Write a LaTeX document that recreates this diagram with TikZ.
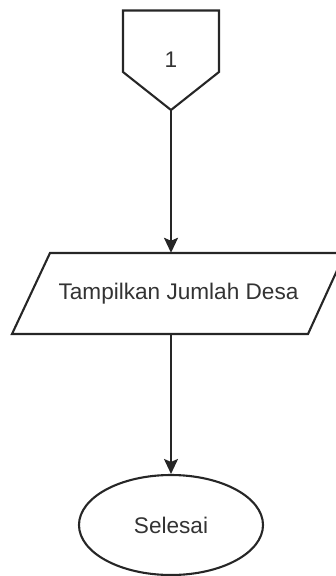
\documentclass[tikz,border=0pt]{standalone}
\usepackage{fontspec}
\setmainfont{Liberation Sans}
\usetikzlibrary{shapes.geometric,arrows.meta}
\definecolor{ln}{HTML}{262626}
\definecolor{tx}{HTML}{333333}
\begin{document}
\begin{tikzpicture}[x=1pt,y=-1pt,
  shapeline/.style={draw=ln,line width=2.1pt,line join=miter},
  lbl/.style={text=tx,font=\fontsize{22.6}{26}\selectfont,inner sep=0pt},
  flow/.style={draw=ln,line width=2.1pt,-{Stealth[length=15pt,width=14pt,inset=3pt]}}]
\clip (0,0) rectangle (336,576);
\useasboundingbox (0,0) rectangle (336,576);
% off-page connector
\draw[shapeline] (123,10.5) -- (219,10.5) -- (219,72) -- (171,110) -- (123,72) -- cycle;
\node[lbl] (c1) at (171,60) {1};
\coordinate (c1tip) at (171,110);
% parallelogram
\draw[shapeline] (50,253) -- (345,253) -- (308,334) -- (12,334) -- cycle;
\node[lbl,minimum height=81pt,minimum width=200pt] (par) at (178.5,293.5) {Tampilkan Jumlah Desa};
% terminator
\node[ellipse,shapeline,lbl,minimum width=184pt,minimum height=100pt] (end) at (171,525) {Selesai};
% connectors
\draw[flow] (c1tip) -- (c1tip |- par.north);
\draw[flow] (c1tip |- par.south) -- (end.north);
\end{tikzpicture}
\end{document}
